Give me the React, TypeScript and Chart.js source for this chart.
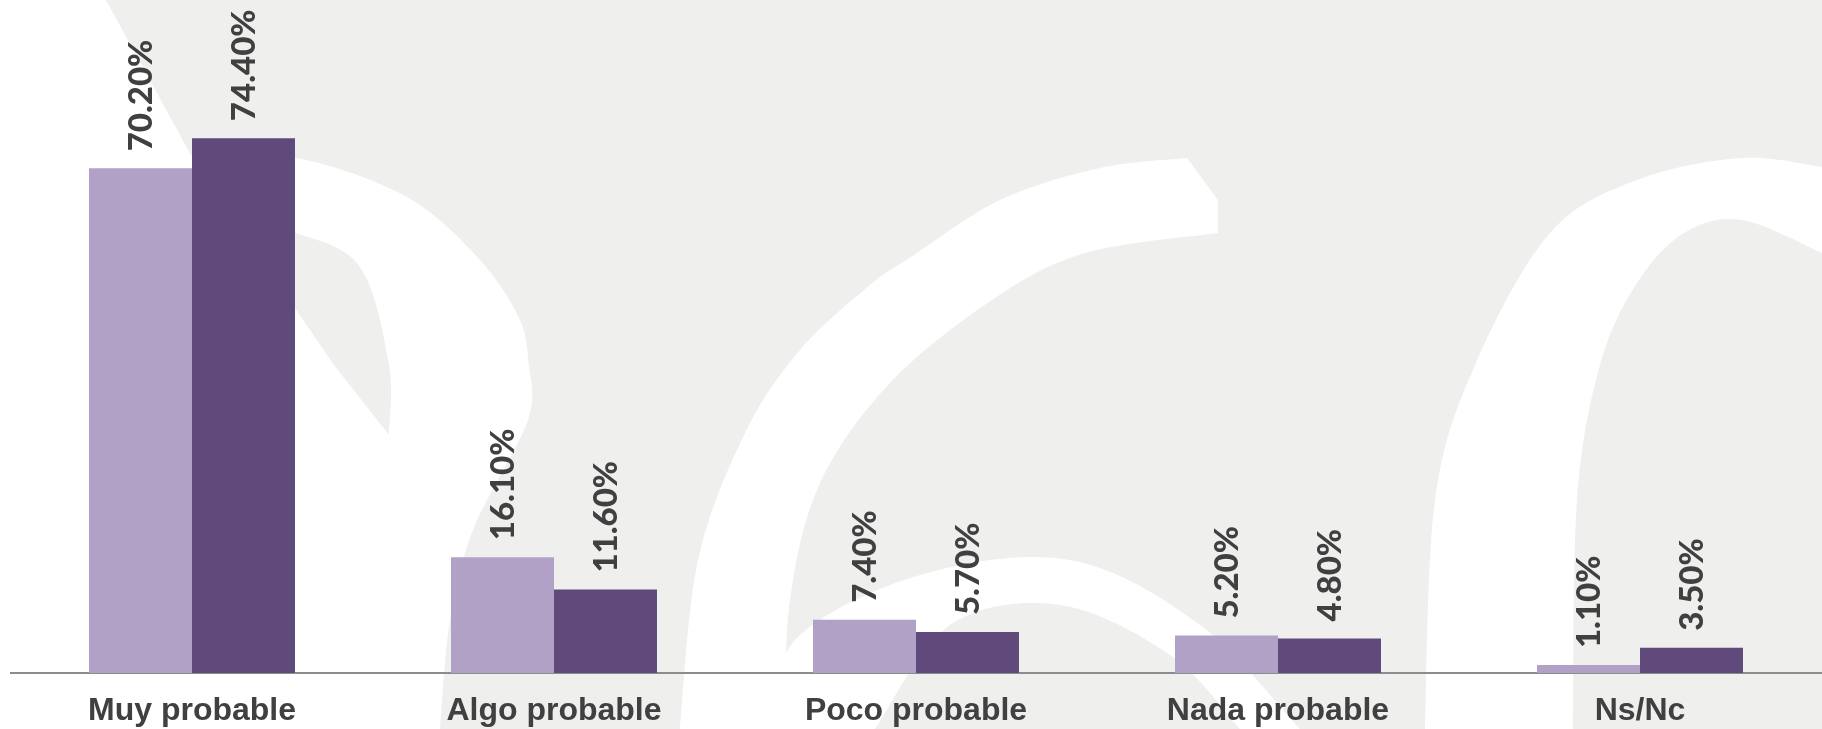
import React, { useEffect, useRef } from "react";
import { Chart, registerables } from "chart.js";

Chart.register(...registerables);

const categories = ["Muy probable", "Algo probable", "Poco probable", "Nada probable", "Ns/Nc"];
const seriesA = [70.2, 16.1, 7.4, 5.2, 1.1];
const seriesB = [74.4, 11.6, 5.7, 4.8, 3.5];
const seriesNames = ["Serie 1", "Serie 2"];
const colorA = "#b1a1c7";
const colorB = "#5f4a7b";

type P = [number, number];

function smoothThrough(ctx: CanvasRenderingContext2D, pts: P[], moveFirst: boolean) {
  if (moveFirst) ctx.moveTo(pts[0][0], pts[0][1]);
  else ctx.lineTo(pts[0][0], pts[0][1]);
  for (let i = 0; i < pts.length - 1; i++) {
    const p0 = pts[i - 1] || pts[i];
    const p1 = pts[i];
    const p2 = pts[i + 1];
    const p3 = pts[i + 2] || p2;
    const c1x = p1[0] + (p2[0] - p0[0]) / 6;
    const c1y = p1[1] + (p2[1] - p0[1]) / 6;
    const c2x = p2[0] - (p3[0] - p1[0]) / 6;
    const c2y = p2[1] - (p3[1] - p1[1]) / 6;
    ctx.bezierCurveTo(c1x, c1y, c2x, c2y, p2[0], p2[1]);
  }
}

const GREY = "#efefee";

const watermark = {
  id: "watermark",
  beforeDraw(chart: any) {
    const ctx: CanvasRenderingContext2D = chart.ctx;
    const w = chart.width;
    const h = chart.height;
    ctx.save();
    ctx.fillStyle = GREY;
    ctx.fillRect(0, 0, w, h);
    ctx.fillStyle = "#ffffff";

    // left "P" shape
    ctx.beginPath();
    ctx.moveTo(0, 0);
    ctx.lineTo(106, 0);
    ctx.lineTo(192, 157);
    smoothThrough(ctx, [[192, 157], [296, 158], [407, 197], [480, 260], [520, 320], [529, 365]], false);
    smoothThrough(ctx, [[529, 365], [528, 420], [473, 530], [450, 620], [440, 729]], false);
    ctx.lineTo(0, 729);
    ctx.closePath();
    ctx.fill();

    // grey wedge inside the P
    ctx.fillStyle = GREY;
    ctx.beginPath();
    ctx.moveTo(236, 222);
    ctx.lineTo(334, 365);
    ctx.lineTo(389, 435);
    smoothThrough(ctx, [[389, 435], [389, 365], [360, 267], [296, 233], [236, 222]], false);
    ctx.closePath();
    ctx.fill();

    ctx.fillStyle = "#ffffff";
    // central C arc
    ctx.beginPath();
    smoothThrough(ctx, [[680, 729], [698, 560], [745, 433], [800, 350], [870, 285], [911, 257], [1000, 200], [1100, 168], [1187, 158]], true);
    ctx.lineTo(1218, 200);
    ctx.lineTo(1218, 233);
    smoothThrough(ctx, [[1218, 233], [1085, 253], [992, 300], [890, 383], [820, 483], [790, 600], [785, 729]], false);
    ctx.closePath();
    ctx.fill();

    // arch
    ctx.beginPath();
    smoothThrough(ctx, [[775, 729], [795, 640], [920, 575], [1070, 560], [1200, 625], [1300, 729]], true);
    ctx.lineTo(1240, 729);
    smoothThrough(ctx, [[1240, 729], [1170, 655], [1060, 605], [950, 625], [875, 729]], false);
    ctx.closePath();
    ctx.fill();

    // right "n" shape
    ctx.beginPath();
    smoothThrough(ctx, [[1425, 729], [1435, 500], [1475, 365], [1550, 233], [1637, 180], [1742, 158], [1822, 167]], true);
    ctx.lineTo(1822, 253);
    smoothThrough(ctx, [[1822, 253], [1742, 220], [1684, 233], [1637, 283], [1600, 365], [1577, 500], [1573, 729]], false);
    ctx.closePath();
    ctx.fill();

    ctx.restore();
  },
};

const valueLabels = {
  id: "valueLabels",
  afterDatasetsDraw(chart: any) {
    const ctx: CanvasRenderingContext2D = chart.ctx;
    ctx.save();
    ctx.fillStyle = "#404040";
    ctx.font = "900 33px Lato";
    ctx.textAlign = "left";
    ctx.textBaseline = "middle";
    chart.data.datasets.forEach((ds: any, di: number) => {
      const meta = chart.getDatasetMeta(di);
      meta.data.forEach((bar: any, i: number) => {
        const v = ds.data[i] as number;
        ctx.save();
        ctx.translate(bar.x + 1, bar.y - 17);
        ctx.rotate(-Math.PI / 2);
        ctx.fillText(v.toFixed(2) + "%", 0, 0);
        ctx.restore();
      });
    });
    ctx.restore();
  },
};

export default function App() {
  const ref = useRef<HTMLCanvasElement>(null);
  useEffect(() => {
    if (!ref.current) return;
    const chart = new Chart(ref.current, {
      type: "bar",
      data: {
        labels: categories,
        datasets: [
          { label: seriesNames[0], data: seriesA, backgroundColor: colorA, borderWidth: 0 },
          { label: seriesNames[1], data: seriesB, backgroundColor: colorB, borderWidth: 0 },
        ],
      },
      options: {
        responsive: false,
        animation: false,
        events: [],
        layout: { padding: { left: 11, right: 1, top: 26, bottom: 0 } },
        datasets: { bar: { categoryPercentage: 0.569, barPercentage: 1.0 } },
        plugins: { legend: { display: false }, tooltip: { enabled: false } },
        scales: {
          x: {
            grid: { display: false, drawTicks: false },
            border: { display: true, color: "#8c8c8c", width: 2 },
            ticks: {
              color: "#404040",
              font: { family: "'Liberation Sans', Arial, sans-serif", size: 32, weight: "bold" },
              padding: 19,
              maxRotation: 0,
              autoSkip: false,
            },
            afterFit: (scale: any) => {
              scale.height = 56;
            },
          },
          y: { display: false, min: 0, max: 90 },
        },
      },
      plugins: [watermark, valueLabels],
    });
    return () => chart.destroy();
  }, []);
  return (
    <div style={{ position: "fixed", left: 0, top: 0, width: 1822, height: 729 }}>
      <canvas ref={ref} width={1822} height={729} style={{ display: "block" }} />
    </div>
  );
}
